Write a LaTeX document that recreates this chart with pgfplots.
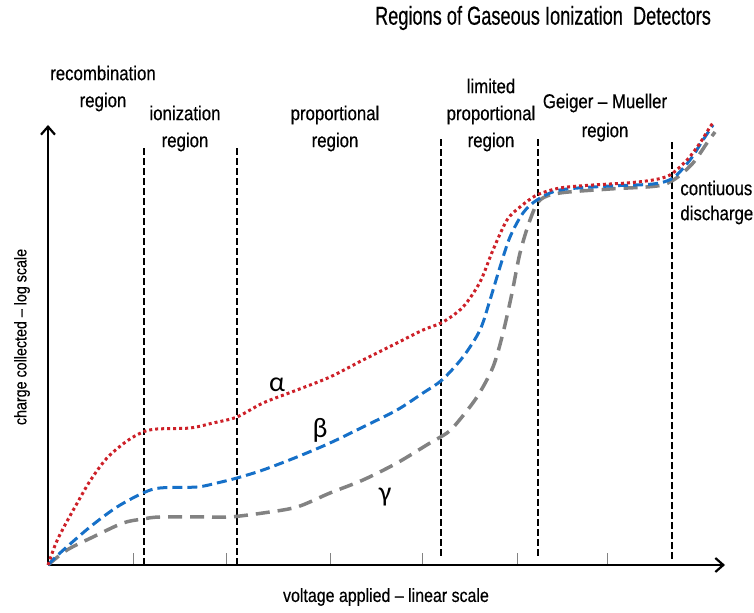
\documentclass[border=0pt]{standalone}
\usepackage{fontspec}
\setmainfont{Liberation Sans}[FakeStretch=0.84, FakeBold=0.4]
\newfontfamily\titlefont{Liberation Sans}[FakeStretch=0.7, FakeBold=0.4]
\newfontfamily\greekfont{Carlito}
\usepackage{pgfplots}
\pgfplotsset{compat=1.18}
\usetikzlibrary{arrows.meta}
\definecolor{cred}{RGB}{205,32,40}
\definecolor{cblue}{RGB}{22,112,200}
\definecolor{cgrey}{RGB}{130,130,130}
\begin{document}
\begin{tikzpicture}
\begin{axis}[
  scale only axis, width=338.5pt, height=220pt,
  xmin=48, xmax=725, ymin=0, ymax=440,
  axis lines=left,
  axis line style={line width=1.25pt, -{Straight Barb[length=4pt,width=7pt,line width=1.1pt]}},
  xtick={133,226,330,422,517,607}, xticklabels={},
  ytick=\empty,
  tick align=inside, major tick length=6pt,
  tick style={cgrey, line width=0.5pt},
  clip=false,
]
% region boundaries
\addplot[black, line width=0.7pt, dash pattern=on 3.5pt off 1.5pt] coordinates {(144,0) (144,418)};
\addplot[black, line width=0.7pt, dash pattern=on 3.5pt off 1.5pt] coordinates {(237,0) (237,418)};
\addplot[black, line width=0.7pt, dash pattern=on 3.5pt off 1.5pt] coordinates {(441,9) (441,427)};
\addplot[black, line width=0.7pt, dash pattern=on 3.5pt off 1.5pt] coordinates {(538,9) (538,427)};
\addplot[black, line width=0.7pt, dash pattern=on 3.5pt off 1.5pt] coordinates {(672,6) (672,423)};
% gamma
\addplot[cgrey, line width=1.75pt, dash pattern=on 7pt off 4pt, smooth] coordinates {
(48,0) (67,15) (93,28) (123,42) (143,46) (160,48) (207,48) (230,48) (263,52) (297,58) (330,72) (363,85) (397,102) (430,122) (447,132) (457,142) (477,168) (493,198) (503,232) (512,272) (520,312) (530,345) (540,365) (560,372) (610,376) (657,379) (675,386) (693,402) (707,422) (715,433)};
% beta
\addplot[cblue, line width=1.5pt, dash pattern=on 5pt off 2.5pt, smooth] coordinates {
(48,0) (60,12) (90,38) (117,58) (143,72) (160,77) (197,78) (217,82) (237,87) (263,95) (297,108) (330,122) (363,138) (397,155) (423,172) (442,185) (463,208) (480,235) (490,265) (500,298) (510,328) (523,352) (537,365) (560,375) (610,379) (653,381) (673,387) (690,405) (703,425) (713,440)};
% alpha
\addplot[cred, line width=1.5pt, dash pattern=on 1.5pt off 1.5pt, smooth] coordinates {
(48,0) (56,22) (65,40) (75,58) (90,84) (107,107) (127,124) (143,133) (157,136) (190,137) (213,142) (237,148) (263,162) (297,175) (330,188) (363,205) (397,222) (423,235) (443,243) (463,258) (480,283) (493,315) (507,345) (520,358) (537,370) (560,377) (593,380) (627,382) (653,385) (670,390) (687,405) (700,422) (710,438) (713,442)};
% labels
\node[font=\titlefont\fontsize{13}{15}\selectfont] at (axis cs:543,547) {Regions of Gaseous Ionization\ \ Detectors};
\node[align=center, font=\fontsize{10}{13.5}\selectfont] at (axis cs:103,476.5) {recombination\\region};
\node[align=center, font=\fontsize{10}{13.5}\selectfont] at (axis cs:185,436.5) {ionization\\region};
\node[align=center, font=\fontsize{10}{13.5}\selectfont] at (axis cs:335,436.5) {proportional\\region};
\node[align=center, font=\fontsize{10}{13.5}\selectfont] at (axis cs:491,450) {limited\\proportional\\region};
\node[align=center, font=\fontsize{10}{14.5}\selectfont] at (axis cs:605,447.5) {Geiger -- Mueller\\region};
\node[align=left, anchor=west, inner sep=0pt, font=\fontsize{10}{12.5}\selectfont] at (axis cs:680,362.5) {contiuous\\discharge};
\node[font=\fontsize{9.5}{11}\selectfont] at (axis cs:386,-32) {voltage applied -- linear scale};
\node[rotate=90, font=\fontsize{8.5}{10}\selectfont] at (axis cs:22,228) {charge collected -- log scale};
\node[font=\greekfont\fontsize{14}{16}\selectfont] at (axis cs:277,180) {α};
\node[font=\greekfont\fontsize{14}{16}\selectfont] at (axis cs:320,135) {β};
\node[font=\greekfont\fontsize{14}{16}\selectfont] at (axis cs:385,68) {γ};
\coordinate (BL) at (axis cs:0,-48);
\coordinate (TR) at (axis cs:754,565);
\end{axis}
\pgfresetboundingbox
\useasboundingbox (BL) rectangle (TR);
\end{tikzpicture}
\end{document}
